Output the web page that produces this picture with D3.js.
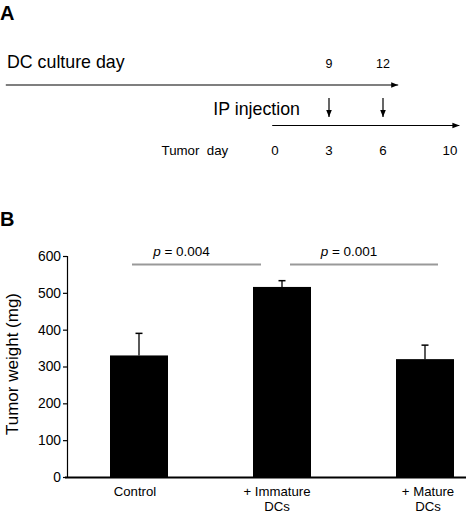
<!DOCTYPE html>
<html><head><meta charset="utf-8">
<script src="https://cdn.jsdelivr.net/npm/d3@7"></script>
<style>body{margin:0;background:#fff}svg{display:block}text{font-family:"Liberation Sans",Arial,Helvetica,sans-serif;fill:#000}</style>
</head><body>
<script>
// Panel A: timeline
const tumorDays = [0, 3, 6, 10];
const dcDays = [9, 12];            // DC culture day labels (aligned to tumor days 3 and 6)
const injectionDays = [3, 6];      // tumor days with IP injection
const dcOffset = 6;                // DC day = tumor day + 6
const dcArrowDays = [-14.9, 6.9];  // extent of the DC culture arrow (tumor-day units)
const tumorArrowDays = [-0.1, 10.3];

// Panel B: bar chart
const categories = ["Control", "+ Immature DCs", "+ Mature DCs"];
const labelLines = [["Control"], ["+ Immature", "DCs"], ["+ Mature", "DCs"]];
const values = [330, 516, 320];
const errors = [60, 17, 38];
const yTicks = [0, 100, 200, 300, 400, 500, 600];
const comparisons = [
  {from: 0, to: 1, p: "0.004"},
  {from: 1, to: 2, p: "0.001"}
];

const W = 466, H = 512;
const svg = d3.select("body").append("svg").attr("width", W).attr("height", H);

svg.append("defs").append("marker")
  .attr("id", "ah").attr("viewBox", "0 0 10 10").attr("refX", 10).attr("refY", 5)
  .attr("markerWidth", 7).attr("markerHeight", 7).attr("markerUnits", "userSpaceOnUse")
  .attr("orient", "auto")
  .append("path").attr("d", "M0,1 L10,5 L0,9 Z").attr("fill", "#000");

// ---------- Panel A ----------
svg.append("text").attr("x", 0).attr("y", 20).attr("font-size", 20).attr("font-weight", "bold").text("A");

const t = d3.scaleLinear().domain([0, 10]).range([274, 454]);

svg.append("text").attr("x", 7).attr("y", 68).attr("font-size", 17.8).text("DC culture day");
svg.selectAll(".dcd").data(dcDays).join("text")
  .attr("x", d => t(d - dcOffset) + 1).attr("y", 67.5).attr("text-anchor", "middle").attr("font-size", 12.5)
  .text(d => d);
svg.append("line")
  .attr("x1", t(dcArrowDays[0])).attr("x2", t(dcArrowDays[1])).attr("y1", 85).attr("y2", 85)
  .attr("stroke", "#000").attr("stroke-width", 1.2).attr("marker-end", "url(#ah)");

svg.append("text").attr("x", 300).attr("y", 115).attr("text-anchor", "end").attr("font-size", 17.8).text("IP injection");
svg.selectAll(".inj").data(injectionDays).join("line")
  .attr("x1", d => t(d) + 1).attr("x2", d => t(d) + 1).attr("y1", 98).attr("y2", 117)
  .attr("stroke", "#000").attr("stroke-width", 1.2).attr("marker-end", "url(#ah)");
svg.append("line")
  .attr("x1", t(tumorArrowDays[0])).attr("x2", t(tumorArrowDays[1])).attr("y1", 125.5).attr("y2", 125.5)
  .attr("stroke", "#000").attr("stroke-width", 1.2).attr("marker-end", "url(#ah)");

svg.append("text").attr("x", 161.5).attr("y", 155).attr("font-size", 13.3)
  .style("white-space", "pre").text("Tumor  day");
svg.selectAll(".td").data(tumorDays).join("text")
  .attr("x", d => t(d) + (d === 10 ? -4 : 1)).attr("y", 155).attr("text-anchor", "middle").attr("font-size", 13.3)
  .text(d => d);

// ---------- Panel B ----------
svg.append("text").attr("x", 0).attr("y", 226).attr("font-size", 20).attr("font-weight", "bold").text("B");

const y = d3.scaleLinear().domain([0, 600]).range([477, 256]);
const x = d3.scalePoint().domain(categories).range([139, 425]);
const bw = 58;
const labelNudge = [-4, -5, 3];

const yAxis = svg.append("g").attr("transform", "translate(67,0)")
  .call(d3.axisLeft(y).tickValues(yTicks).tickSize(4).tickPadding(2));
yAxis.select(".domain").attr("stroke", "#000").attr("stroke-width", 1.2);
yAxis.selectAll(".tick line").attr("stroke", "#000").attr("stroke-width", 1.2);
yAxis.selectAll(".tick text").attr("font-size", 13.8).attr("fill", "#000")
  .attr("font-family", "Liberation Sans, Arial, sans-serif");

svg.append("text").attr("transform", "translate(17.5,364) rotate(-90)")
  .attr("text-anchor", "middle").attr("font-size", 17).text("Tumor weight (mg)");

svg.selectAll(".bar").data(values).join("rect")
  .attr("x", (d, i) => x(categories[i]) - bw / 2).attr("width", bw)
  .attr("y", d => y(d)).attr("height", d => y(0) - y(d))
  .attr("fill", "#000");

svg.selectAll(".err").data(values).join("line")
  .attr("x1", (d, i) => x(categories[i])).attr("x2", (d, i) => x(categories[i]))
  .attr("y1", d => y(d)).attr("y2", (d, i) => y(d + errors[i]))
  .attr("stroke", "#000").attr("stroke-width", 1.3);
svg.selectAll(".cap").data(values).join("line")
  .attr("x1", (d, i) => x(categories[i]) - 3.5).attr("x2", (d, i) => x(categories[i]) + 3.5)
  .attr("y1", (d, i) => y(d + errors[i])).attr("y2", (d, i) => y(d + errors[i]))
  .attr("stroke", "#000").attr("stroke-width", 1.5);

svg.append("line").attr("x1", 65).attr("x2", 466).attr("y1", y(0) + 0.5).attr("y2", y(0) + 0.5)
  .attr("stroke", "#000").attr("stroke-width", 2);

labelLines.forEach((lines, i) => {
  lines.forEach((l, j) => {
    svg.append("text").attr("text-anchor", "middle").attr("font-size", 13.2)
      .attr("x", x(categories[i]) + labelNudge[i]).attr("y", 496 + j * 14.5).text(l);
  });
});

const sigY = 264.5;
const sigStart = [132, 290];
const sigEnd = [261, 438];
comparisons.forEach((c, k) => {
  svg.append("line").attr("x1", sigStart[k]).attr("x2", sigEnd[k]).attr("y1", sigY).attr("y2", sigY)
    .attr("stroke", "#999").attr("stroke-width", 2);
  const tx = svg.append("text").attr("x", (sigStart[k] + sigEnd[k]) / 2 - 15).attr("y", 256)
    .attr("text-anchor", "middle").attr("font-size", 13.5);
  tx.append("tspan").attr("font-style", "italic").text("p");
  tx.append("tspan").text(" = " + c.p);
});
</script>
</body></html>
